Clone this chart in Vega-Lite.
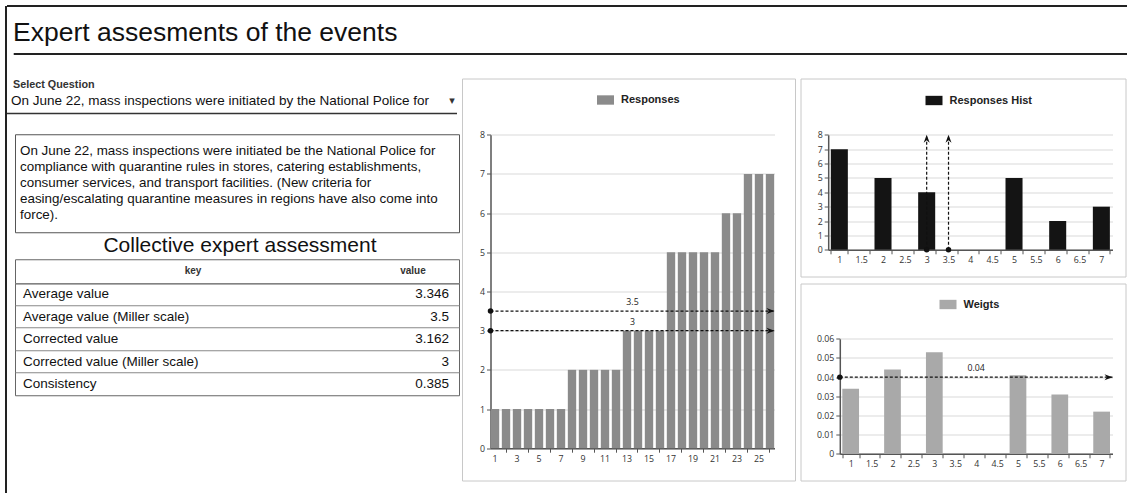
{
  "$schema": "https://vega.github.io/schema/vega-lite/v6.json",
  "padding": {"left": 5, "top": 5, "right": 0, "bottom": 0},
  "background": "white",
  "bounds": "full",
  "spacing": -1,
  "resolve": {"scale": {"color": "independent"}, "legend": {"color": "independent"}},
  "config": {
    "font": "Liberation Sans",
    "view": {"stroke": null},
    "axis": {"domainColor": "#555", "domainWidth": 1.5, "tickColor": "#555", "tickSize": 4, "tickWidth": 1, "labelFont": "Open Sans", "labelFontSize": 8.8, "labelColor": "#333", "labelPadding": 2, "gridColor": "#d9d9d9", "gridWidth": 1, "labelOverlap": false},
    "legend": {"labelFont": "Liberation Sans", "labelFontSize": 11, "labelFontWeight": "bold", "labelColor": "#222", "padding": 0, "symbolType": "M-1,-0.55L1,-0.55L1,0.55L-1,0.55Z", "symbolSize": 289, "symbolStrokeWidth": 0, "labelOffset": 7},
    "text": {"font": "Liberation Sans", "color": "#111"}
  },
  "datasets": {
    "responses": [
      {"expert": 1, "response": 1}, {"expert": 2, "response": 1}, {"expert": 3, "response": 1}, {"expert": 4, "response": 1},
      {"expert": 5, "response": 1}, {"expert": 6, "response": 1}, {"expert": 7, "response": 1}, {"expert": 8, "response": 2},
      {"expert": 9, "response": 2}, {"expert": 10, "response": 2}, {"expert": 11, "response": 2}, {"expert": 12, "response": 2},
      {"expert": 13, "response": 3}, {"expert": 14, "response": 3}, {"expert": 15, "response": 3}, {"expert": 16, "response": 3},
      {"expert": 17, "response": 5}, {"expert": 18, "response": 5}, {"expert": 19, "response": 5}, {"expert": 20, "response": 5},
      {"expert": 21, "response": 5}, {"expert": 22, "response": 6}, {"expert": 23, "response": 6}, {"expert": 24, "response": 7},
      {"expert": 25, "response": 7}, {"expert": 26, "response": 7}
    ],
    "hist": [
      {"answer": 1, "count": 7}, {"answer": 2, "count": 5}, {"answer": 3, "count": 4},
      {"answer": 5, "count": 5}, {"answer": 6, "count": 2}, {"answer": 7, "count": 3}
    ],
    "weights": [
      {"answer": 1, "weight": 0.034}, {"answer": 2, "weight": 0.044}, {"answer": 3, "weight": 0.053},
      {"answer": 5, "weight": 0.041}, {"answer": 6, "weight": 0.031}, {"answer": 7, "weight": 0.022}
    ],
    "medians": [
      {"name": "Average value (Miller scale)", "value": 3.5},
      {"name": "Corrected value (Miller scale)", "value": 3}
    ],
    "weightline": [{"name": "Weight", "value": 0.04}],
    "stats": [
      {"key": "Average value", "value": "3.346"},
      {"key": "Average value (Miller scale)", "value": "3.5"},
      {"key": "Corrected value", "value": "3.162"},
      {"key": "Corrected value (Miller scale)", "value": "3"},
      {"key": "Consistency", "value": "0.385"}
    ]
  },
  "hconcat": [
    {
      "width": 1, "height": 487,
      "data": {"values": [{"frame": "left"}]},
      "mark": {"type": "rule", "color": "#222", "strokeWidth": 2},
      "encoding": {
        "x": {"datum": 0, "type": "quantitative", "scale": {"domain": [0, 1]}, "axis": null},
        "y": {"datum": 0, "type": "quantitative", "scale": {"domain": [0, 1]}, "axis": null},
        "y2": {"datum": 1}
      }
    },
    {
      "spacing": 22.5,
      "bounds": "full",
      "resolve": {"scale": {"color": "independent"}, "legend": {"color": "independent"}},
      "vconcat": [
        {
          "width": 1120, "height": 48,
          "data": {"values": [{"title": "Expert assesments of the events"}]},
          "layer": [
            {
              "mark": {"type": "rule", "color": "#222", "strokeWidth": 2},
              "encoding": {
                "x": {"datum": 0, "type": "quantitative", "scale": {"domain": [0, 1]}, "axis": null},
                "x2": {"datum": 1},
                "y": {"datum": 1, "type": "quantitative", "scale": {"domain": [0, 1]}, "axis": null}
              }
            },
            {
              "mark": {"type": "rule", "color": "#222", "strokeWidth": 2},
              "encoding": {
                "x": {"datum": 0.006, "type": "quantitative"},
                "x2": {"datum": 1},
                "y": {"datum": 0, "type": "quantitative"}
              }
            },
            {
              "mark": {"type": "text", "align": "left", "baseline": "alphabetic", "fontSize": 26.5, "dx": 6, "dy": -13, "color": "#111"},
              "encoding": {
                "x": {"datum": 0, "type": "quantitative"},
                "y": {"datum": 0, "type": "quantitative"},
                "text": {"field": "title"}
              }
            }
          ]
        },
        {
          "spacing": 1,
          "bounds": "full",
          "resolve": {"scale": {"color": "independent"}, "legend": {"color": "independent"}},
          "hconcat": [
            {
              "spacing": 18.75,
              "bounds": "full",
              "vconcat": [
                {
                  "width": 450, "height": 35,
                  "data": {"values": [{"label": "Select Question", "question": "On June 22, mass inspections were initiated by the National Police for"}]},
                  "layer": [
                    {
                      "mark": {"type": "text", "align": "left", "baseline": "middle", "fontSize": 10.8, "fontWeight": "bold", "dx": 6, "dy": 6, "color": "#333"},
                      "encoding": {
                        "x": {"datum": 0, "type": "quantitative", "scale": {"domain": [0, 1]}, "axis": null},
                        "y": {"datum": 1, "type": "quantitative", "scale": {"domain": [0, 1]}, "axis": null},
                        "text": {"field": "label"}
                      }
                    },
                    {
                      "mark": {"type": "text", "align": "left", "baseline": "middle", "fontSize": 13.5, "dx": 4, "dy": -13, "color": "#111"},
                      "encoding": {
                        "x": {"datum": 0, "type": "quantitative"},
                        "y": {"datum": 0, "type": "quantitative"},
                        "text": {"field": "question"}
                      }
                    },
                    {
                      "mark": {"type": "text", "align": "center", "baseline": "middle", "fontSize": 11, "font": "DejaVu Sans", "dx": -5, "dy": -13, "color": "#333"},
                      "encoding": {
                        "x": {"datum": 1, "type": "quantitative"},
                        "y": {"datum": 0, "type": "quantitative"},
                        "text": {"value": "▾"}
                      }
                    },
                    {
                      "mark": {"type": "rule", "color": "#333", "strokeWidth": 1.5},
                      "encoding": {
                        "x": {"datum": 0, "type": "quantitative"},
                        "x2": {"datum": 1},
                        "y": {"datum": 0, "type": "quantitative"}
                      }
                    }
                  ]
                },
                {
                  "spacing": 6,
                  "bounds": "full",
                  "hconcat": [
                    {"width": 1, "height": 1, "data": {"values": []}, "mark": "point", "encoding": {}},
                    {
                      "spacing": 0,
                      "bounds": "flush",
                      "vconcat": [
                        {
                          "width": 444, "height": 98,
                          "view": {"stroke": "#555", "strokeWidth": 1},
                          "data": {"values": [{"text": "On June 22, mass inspections were initiated be the National Police for\ncompliance with quarantine rules in stores, catering establishments,\nconsumer services, and transport facilities. (New criteria for\neasing/escalating quarantine measures in regions have also come into\nforce)."}]},
                          "mark": {"type": "text", "align": "left", "baseline": "top", "lineBreak": "\n", "lineHeight": 16, "fontSize": 13.4, "dx": 5, "dy": 10, "color": "#111"},
                          "encoding": {
                            "x": {"datum": 0, "type": "quantitative", "scale": {"domain": [0, 1]}, "axis": null},
                            "y": {"datum": 1, "type": "quantitative", "scale": {"domain": [0, 1]}, "axis": null},
                            "text": {"field": "text"}
                          }
                        },
                        {
                          "width": 444, "height": 27,
                          "data": {"values": [{"heading": "Collective expert assessment"}]},
                          "mark": {"type": "text", "align": "center", "baseline": "middle", "fontSize": 21, "dx": 3, "dy": 0, "color": "#111"},
                          "encoding": {"text": {"field": "heading"}}
                        },
                        {
                          "width": 444, "height": 24,
                          "view": {"stroke": "#666", "strokeWidth": 1},
                          "data": {"values": [{"column": "key"}, {"column": "value"}]},
                          "mark": {"type": "text", "fontSize": 10, "fontWeight": "bold", "color": "#333", "baseline": "middle"},
                          "encoding": {
                            "x": {"field": "column", "type": "nominal", "scale": {"type": "point", "range": [178, 398], "padding": 0}, "axis": null},
                            "text": {"field": "column"}
                          }
                        },
                        {
                          "width": 444, "height": 112,
                          "view": {"stroke": "#666", "strokeWidth": 1},
                          "data": {"name": "stats"},
                          "encoding": {
                            "y": {"field": "key", "type": "nominal", "sort": null, "scale": {"type": "band", "paddingInner": 0, "paddingOuter": 0}, "axis": {"orient": "left", "labels": false, "ticks": false, "domain": false, "grid": true, "gridColor": "#888", "bandPosition": 0, "title": null}}
                          },
                          "layer": [
                            {
                              "mark": {"type": "text", "align": "left", "baseline": "middle", "fontSize": 13.5, "dx": 8, "color": "#111"},
                              "encoding": {
                                "x": {"datum": 0, "type": "quantitative", "scale": {"domain": [0, 1]}, "axis": null},
                                "text": {"field": "key", "type": "nominal"}
                              }
                            },
                            {
                              "mark": {"type": "text", "align": "right", "baseline": "middle", "fontSize": 13.5, "dx": -10, "color": "#111"},
                              "encoding": {
                                "x": {"datum": 1, "type": "quantitative"},
                                "text": {"field": "value", "type": "nominal"}
                              }
                            }
                          ]
                        }
                      ]
                    }
                  ]
                }
              ]
            },
            {
              "spacing": 3.5,
              "bounds": "full",
              "resolve": {"scale": {"color": "independent"}, "legend": {"color": "independent"}},
              "hconcat": [
                {
                  "width": 333, "height": 402,
                  "view": {"stroke": "#c8c8c8", "strokeWidth": 1},
                  "resolve": {"scale": {"x": "independent"}},
                  "layer": [
                    {
                      "data": {"name": "responses"},
                      "mark": {"type": "bar"},
                      "encoding": {
                        "x": {"field": "expert", "type": "ordinal", "scale": {"range": [28.5, 312.5], "paddingInner": 0.24, "paddingOuter": 0.03},
                          "axis": {"orient": "bottom", "offset": -32.3, "title": null, "labelAngle": 0, "grid": false, "labelOverlap": false, "labelExpr": "datum.value % 2 === 1 ? datum.label : ''", "tickOpacity": {"condition": {"test": "datum.value % 2 === 0", "value": 1}, "value": 0}}},
                        "y": {"field": "response", "type": "quantitative", "scale": {"domain": [0, 8], "range": [369.7, 56.3], "nice": false},
                          "axis": {"orient": "left", "offset": -28.5, "values": [0, 1, 2, 3, 4, 5, 6, 7, 8], "tickCount": 20, "format": "d", "labelOverlap": false, "title": null, "grid": true}},
                        "color": {"datum": "Responses", "scale": {"range": ["#8b8b8b"]}, "legend": {"orient": "none", "legendX": 135, "legendY": 13, "title": null}}
                      }
                    },
                    {
                      "data": {"name": "medians"},
                      "layer": [
                        {
                          "mark": {"type": "rule", "strokeDash": [3, 2], "color": "#111", "strokeWidth": 1.2},
                          "encoding": {
                            "x": {"datum": 0, "type": "quantitative", "scale": {"domain": [0, 1], "range": [28.5, 312.5]}, "axis": null},
                            "x2": {"datum": 1},
                            "y": {"field": "value", "type": "quantitative"}
                          }
                        },
                        {
                          "mark": {"type": "point", "shape": "circle", "filled": true, "size": 30, "color": "#111", "opacity": 1},
                          "encoding": {
                            "x": {"datum": 0, "type": "quantitative"},
                            "y": {"field": "value", "type": "quantitative"}
                          }
                        },
                        {
                          "mark": {"type": "point", "shape": "M0,0L-1.6,-0.6L-1.1,0L-1.6,0.6Z", "filled": true, "size": 100, "color": "#111", "opacity": 1},
                          "encoding": {
                            "x": {"datum": 1, "type": "quantitative"},
                            "y": {"field": "value", "type": "quantitative"}
                          }
                        },
                        {
                          "mark": {"type": "text", "dy": -9, "fontSize": 8.8, "font": "Open Sans", "color": "#222"},
                          "encoding": {
                            "x": {"datum": 0.5, "type": "quantitative"},
                            "y": {"field": "value", "type": "quantitative"},
                            "text": {"field": "value", "type": "nominal"}
                          }
                        }
                      ]
                    }
                  ]
                },
                {
                  "spacing": 7,
                  "bounds": "flush",
                  "resolve": {"scale": {"color": "independent"}, "legend": {"color": "independent"}},
                  "vconcat": [
                    {
                      "width": 325, "height": 198,
                      "view": {"stroke": "#c8c8c8", "strokeWidth": 1},
                      "layer": [
                        {
                          "data": {"name": "hist"},
                          "mark": {"type": "bar"},
                          "encoding": {
                            "x": {"field": "answer", "type": "ordinal", "scale": {"domain": [1, 1.5, 2, 2.5, 3, 3.5, 4, 4.5, 5, 5.5, 6, 6.5, 7], "range": [27.7, 312], "paddingInner": 0.22, "paddingOuter": 0.12},
                              "axis": {"orient": "bottom", "offset": -26.7, "title": null, "labelAngle": 0, "labelOverlap": false, "tickBand": "extent", "grid": false}},
                            "y": {"field": "count", "type": "quantitative", "scale": {"domain": [0, 8], "range": [171.3, 56.3], "nice": false},
                              "axis": {"orient": "left", "offset": -27.7, "values": [0, 1, 2, 3, 4, 5, 6, 7, 8], "tickCount": 20, "format": "d", "labelOverlap": false, "title": null, "grid": true}},
                            "color": {"datum": "Responses Hist", "scale": {"range": ["#141414"]}, "legend": {"orient": "none", "legendX": 125, "legendY": 13.5, "title": null}}
                          }
                        },
                        {
                          "data": {"name": "medians"},
                          "layer": [
                            {
                              "mark": {"type": "rule", "strokeDash": [3, 2], "color": "#111", "strokeWidth": 1.2},
                              "encoding": {
                                "x": {"field": "value", "type": "ordinal"},
                                "y": {"datum": 0, "type": "quantitative"},
                                "y2": {"datum": 8}
                              }
                            },
                            {
                              "mark": {"type": "point", "shape": "circle", "filled": true, "size": 30, "color": "#111", "opacity": 1},
                              "encoding": {
                                "x": {"field": "value", "type": "ordinal"},
                                "y": {"datum": 0, "type": "quantitative"}
                              }
                            },
                            {
                              "mark": {"type": "point", "shape": "M0,0L0.6,1.6L0,1.1L-0.6,1.6Z", "filled": true, "size": 100, "color": "#111", "opacity": 1},
                              "encoding": {
                                "x": {"field": "value", "type": "ordinal"},
                                "y": {"datum": 8, "type": "quantitative"}
                              }
                            }
                          ]
                        }
                      ]
                    },
                    {
                      "width": 325, "height": 197,
                      "view": {"stroke": "#c8c8c8", "strokeWidth": 1},
                      "resolve": {"scale": {"x": "independent"}},
                      "layer": [
                        {
                          "data": {"name": "weights"},
                          "mark": {"type": "bar"},
                          "encoding": {
                            "x": {"field": "answer", "type": "ordinal", "scale": {"domain": [1, 1.5, 2, 2.5, 3, 3.5, 4, 4.5, 5, 5.5, 6, 6.5, 7], "range": [39.3, 312], "paddingInner": 0.2, "paddingOuter": 0.12},
                              "axis": {"orient": "bottom", "offset": -26.7, "title": null, "labelAngle": 0, "labelOverlap": false, "tickBand": "extent", "grid": false}},
                            "y": {"field": "weight", "type": "quantitative", "scale": {"domain": [0, 0.06], "range": [170.3, 55.3], "nice": false},
                              "axis": {"orient": "left", "offset": -39.3, "values": [0, 0.01, 0.02, 0.03, 0.04, 0.05, 0.06], "tickCount": 20, "labelOverlap": false, "labelExpr": "datum.value === 0 ? '0' : format(datum.value, '.2f')", "title": null, "grid": true}},
                            "color": {"datum": "Weigts", "scale": {"range": ["#a9a9a9"]}, "legend": {"orient": "none", "legendX": 139, "legendY": 12.5, "title": null}}
                          }
                        },
                        {
                          "data": {"name": "weightline"},
                          "layer": [
                            {
                              "mark": {"type": "rule", "strokeDash": [3, 2], "color": "#111", "strokeWidth": 1.2},
                              "encoding": {
                                "x": {"datum": 0, "type": "quantitative", "scale": {"domain": [0, 1], "range": [39.3, 312]}, "axis": null},
                                "x2": {"datum": 1},
                                "y": {"field": "value", "type": "quantitative"}
                              }
                            },
                            {
                              "mark": {"type": "point", "shape": "circle", "filled": true, "size": 30, "color": "#111", "opacity": 1},
                              "encoding": {
                                "x": {"datum": 0, "type": "quantitative"},
                                "y": {"field": "value", "type": "quantitative"}
                              }
                            },
                            {
                              "mark": {"type": "point", "shape": "M0,0L-1.6,-0.6L-1.1,0L-1.6,0.6Z", "filled": true, "size": 100, "color": "#111", "opacity": 1},
                              "encoding": {
                                "x": {"datum": 1, "type": "quantitative"},
                                "y": {"field": "value", "type": "quantitative"}
                              }
                            },
                            {
                              "mark": {"type": "text", "dy": -9, "fontSize": 8.8, "font": "Open Sans", "color": "#222"},
                              "encoding": {
                                "x": {"datum": 0.5, "type": "quantitative"},
                                "y": {"field": "value", "type": "quantitative"},
                                "text": {"field": "value", "type": "nominal"}
                              }
                            }
                          ]
                        }
                      ]
                    }
                  ]
                }
              ]
            }
          ]
        }
      ]
    }
  ]
}
